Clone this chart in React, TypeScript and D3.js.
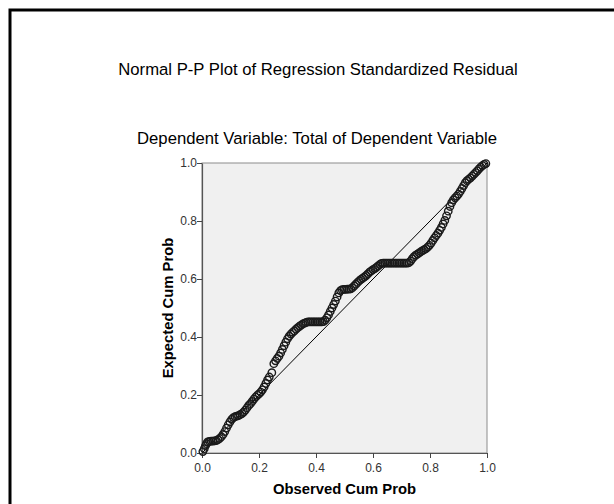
import React, { useRef, useEffect } from 'react';
import * as d3 from 'd3';

// observed cum prob (x) and expected cum prob (y)
const observed = [
  0.003, 0.008, 0.012, 0.016, 0.020, 0.026, 0.032, 0.038, 0.044, 0.050,
  0.056, 0.062, 0.068, 0.074, 0.080, 0.086, 0.092, 0.098, 0.104, 0.110,
  0.116, 0.122, 0.128, 0.134, 0.140, 0.146, 0.152, 0.158, 0.164, 0.170,
  0.176, 0.182, 0.188, 0.194, 0.200, 0.206, 0.212, 0.218, 0.224, 0.230,
  0.236, 0.245,
  0.252, 0.258, 0.264, 0.270, 0.276, 0.282, 0.288, 0.294, 0.300, 0.306,
  0.312, 0.318, 0.324, 0.330, 0.336, 0.342, 0.348, 0.354, 0.360, 0.366,
  0.372, 0.378, 0.384, 0.390, 0.396, 0.402, 0.408, 0.414, 0.420, 0.426,
  0.432, 0.438, 0.444, 0.450, 0.456, 0.462, 0.468, 0.474, 0.480, 0.486,
  0.492, 0.498, 0.504, 0.510, 0.516, 0.522, 0.528, 0.534, 0.540, 0.546,
  0.552, 0.558, 0.564, 0.570, 0.576, 0.582, 0.588, 0.594, 0.600, 0.606,
  0.612, 0.618, 0.624, 0.630, 0.636, 0.642, 0.648, 0.654, 0.660, 0.666,
  0.672, 0.678, 0.684, 0.690, 0.696, 0.702, 0.708, 0.714, 0.720, 0.726,
  0.732, 0.738, 0.744, 0.750, 0.756, 0.762, 0.768, 0.774, 0.780, 0.786,
  0.792, 0.798, 0.804, 0.810, 0.816, 0.822, 0.828, 0.834, 0.840, 0.846,
  0.852, 0.858, 0.864, 0.870, 0.876, 0.882, 0.888, 0.894, 0.900, 0.906,
  0.912, 0.918, 0.924, 0.930, 0.936, 0.942, 0.948, 0.954, 0.960, 0.966,
  0.972, 0.978, 0.984, 0.990, 0.996,
];
const expected = [
  0.005, 0.015, 0.025, 0.032, 0.038, 0.040, 0.041, 0.041, 0.042, 0.043,
  0.046, 0.050, 0.056, 0.064, 0.074, 0.086, 0.097, 0.107, 0.116, 0.122,
  0.125, 0.127, 0.129, 0.132, 0.136, 0.141, 0.148, 0.156, 0.164, 0.170,
  0.178, 0.186, 0.193, 0.199, 0.204, 0.210, 0.218, 0.228, 0.240, 0.252,
  0.262, 0.277,
  0.308, 0.318, 0.326, 0.334, 0.345, 0.357, 0.370, 0.382, 0.394, 0.403,
  0.410, 0.416, 0.421, 0.427, 0.432, 0.437, 0.441, 0.445, 0.448, 0.450,
  0.452, 0.452, 0.452, 0.452, 0.452, 0.452, 0.452, 0.452, 0.452, 0.453,
  0.458, 0.466, 0.476, 0.488, 0.500, 0.512, 0.524, 0.538, 0.552, 0.560,
  0.563, 0.564, 0.564, 0.565, 0.565, 0.566, 0.570, 0.576, 0.582, 0.588,
  0.594, 0.599, 0.603, 0.607, 0.612, 0.618, 0.624, 0.628, 0.632, 0.636,
  0.640, 0.645, 0.650, 0.654, 0.655, 0.655, 0.655, 0.655, 0.655, 0.655,
  0.655, 0.655, 0.655, 0.655, 0.655, 0.655, 0.655, 0.655, 0.655, 0.656,
  0.662, 0.670, 0.677, 0.682, 0.686, 0.690, 0.694, 0.698, 0.701, 0.705,
  0.710, 0.716, 0.724, 0.733, 0.742, 0.750, 0.758, 0.768, 0.778, 0.790,
  0.802, 0.818, 0.834, 0.850, 0.863, 0.873, 0.880, 0.886, 0.893, 0.902,
  0.912, 0.922, 0.932, 0.939, 0.944, 0.949, 0.955, 0.961, 0.967, 0.973,
  0.980, 0.986, 0.991, 0.995, 0.998,
];
const tickValues = [0, 0.2, 0.4, 0.6, 0.8, 1.0];
const title = 'Normal P-P Plot of Regression Standardized Residual';
const subtitle = 'Dependent Variable: Total of Dependent Variable';
const xTitle = 'Observed Cum Prob';
const yTitle = 'Expected Cum Prob';

const font = '"Liberation Sans", Arial, sans-serif';

const PPPlot = () => {
  const ref = useRef(null);
  useEffect(() => {
    const svg = d3.select(ref.current);
    svg.selectAll('*').remove();

    const left = 202, right = 487, top = 163, bottom = 453;
    const x = d3.scaleLinear().domain([0, 1]).range([left, right]);
    const y = d3.scaleLinear().domain([0, 1]).range([bottom, top]);

    // outer frame
    svg.append('rect')
      .attr('x', 10).attr('y', 10).attr('width', 640).attr('height', 540)
      .attr('fill', '#fff').attr('stroke', '#000').attr('stroke-width', 3);

    svg.append('text')
      .attr('x', 318).attr('y', 75)
      .attr('text-anchor', 'middle')
      .attr('font-family', font).attr('font-size', 16.7)
      .text(title);
    svg.append('text')
      .attr('x', 317).attr('y', 144)
      .attr('text-anchor', 'middle')
      .attr('font-family', font).attr('font-size', 16.7)
      .text(subtitle);

    // plot area
    svg.append('rect')
      .attr('x', left).attr('y', top)
      .attr('width', right - left).attr('height', bottom - top)
      .attr('fill', '#f0f0f0').attr('stroke', '#8c8c8c').attr('stroke-width', 1);

    // axes
    const xAxis = svg.append('g')
      .attr('transform', `translate(0,${bottom})`)
      .call(d3.axisBottom(x).tickValues(tickValues).tickFormat(d3.format('.1f')).tickSize(5).tickSizeOuter(0));
    const yAxis = svg.append('g')
      .attr('transform', `translate(${left},0)`)
      .call(d3.axisLeft(y).tickValues(tickValues).tickFormat(d3.format('.1f')).tickSize(5).tickSizeOuter(0));
    [xAxis, yAxis].forEach(g => {
      g.select('.domain').attr('stroke', '#555').attr('stroke-width', 1.2);
      g.selectAll('.tick line').attr('stroke', '#444');
      g.selectAll('.tick text')
        .attr('font-family', font).attr('font-size', 12).attr('fill', '#333');
    });
    xAxis.selectAll('.tick text').attr('dy', '0.9em');
    yAxis.selectAll('.tick text').attr('x', -5);

    svg.append('text')
      .attr('x', (left + right) / 2).attr('y', 494)
      .attr('text-anchor', 'middle')
      .attr('font-family', font).attr('font-size', 14.8).attr('font-weight', 'bold')
      .text(xTitle);
    svg.append('text')
      .attr('transform', `translate(173,${(top + bottom) / 2}) rotate(-90)`)
      .attr('text-anchor', 'middle')
      .attr('font-family', font).attr('font-size', 14.8).attr('font-weight', 'bold')
      .text(yTitle);

    // reference line
    svg.append('line')
      .attr('x1', x(0)).attr('y1', y(0)).attr('x2', x(1)).attr('y2', y(1))
      .attr('stroke', '#000').attr('stroke-width', 1);

    const data = observed.map((o, i) => ({ o, e: expected[i] }));
    svg.append('g')
      .selectAll('circle')
      .data(data)
      .join('circle')
      .attr('cx', d => x(d.o))
      .attr('cy', d => y(d.e))
      .attr('r', 3.7)
      .attr('fill', 'none')
      .attr('stroke', '#1a1a1a')
      .attr('stroke-width', 1.4);
  }, []);

  return <svg ref={ref} width={614} height={504}
    style={{ position: 'absolute', left: 0, top: 0, background: '#fff' }} />;
};

export default function App() {
  return <PPPlot />;
}
